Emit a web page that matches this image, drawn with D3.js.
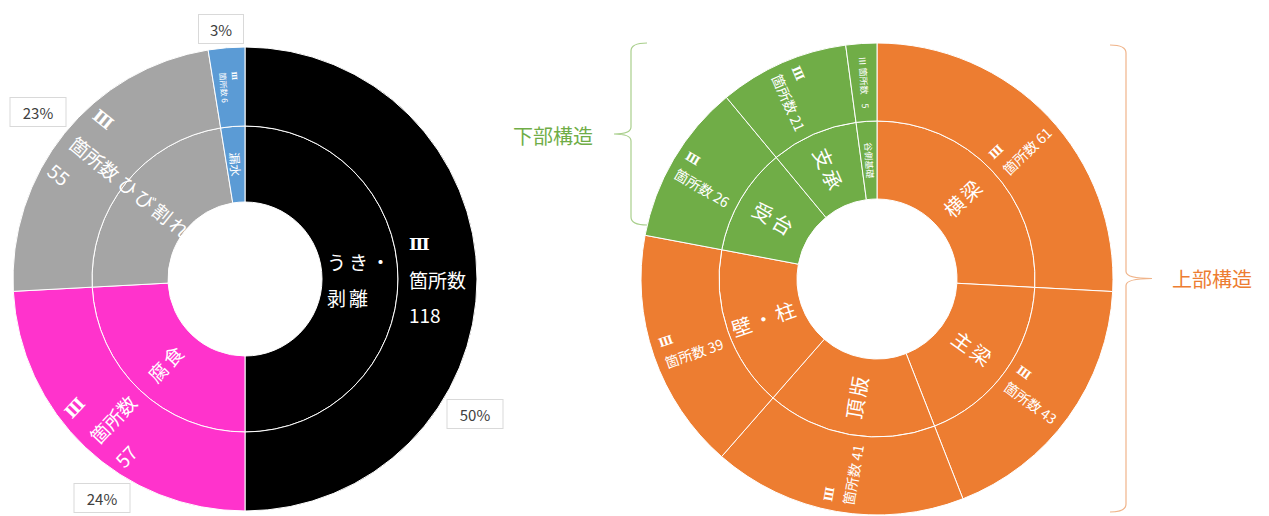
<!DOCTYPE html>
<html>
<head>
<meta charset="utf-8">
<script src="https://cdn.jsdelivr.net/npm/d3@7"></script>
<style>
  body { margin: 0; background: #fff; }
  text { font-family: "Noto Sans CJK JP", "Noto Sans", sans-serif; }
</style>
</head>
<body>
<div id="container"></div>
<script>
// left sunburst: damage type
const leftCategories = ["うき・剥離", "腐食", "ひび割れ", "漏水"];
const leftInnerLines = [["うき・", "剥離"], ["腐食"], ["ひび割れ"], ["漏水"]];
const leftValues = [118, 57, 55, 6];
const leftColors = ["#000000", "#ff33cc", "#a5a5a5", "#5b9bd5"];

// right sunburst: member
const rightCategories = ["横梁", "主梁", "頂版", "壁・柱", "受台", "支承", "谷側基礎"];
const rightValues = [61, 43, 41, 39, 26, 21, 5];
const rightGroups = ["上部構造", "上部構造", "上部構造", "上部構造", "下部構造", "下部構造", "下部構造"];
const groupColors = { "上部構造": "#ed7d31", "下部構造": "#70ad47" };
const groupBraceColors = { "上部構造": "#f0b48a", "下部構造": "#a9cf8c" };

const rankLabel = "Ⅲ";
const countLabel = "箇所数";

const width = 1269;
const height = 516;

const svg = d3.select("#container")
    .append("svg")
    .attr("width", width)
    .attr("height", height);

// label rotation like excel sunburst: along the radius, never upside down
function labelRotation(d) {
    const a = (d.startAngle + d.endAngle) / 2 * 180 / Math.PI;
    let r = a - 90;
    if (r > 90) r -= 180;
    return r;
}

// multi line label, lines left aligned, block centred at (0,0)
function addLabel(g, lines, size, lineGap, opts) {
    opts = opts || {};
    const t = g.append("text")
        .attr("fill", opts.fill || "#fff")
        .attr("font-size", size)
        .style("letter-spacing", opts.spacing || "0px");
    lines.forEach((line, i) => {
        const ts = t.append("tspan")
            .attr("x", 0)
            .attr("y", (i - (lines.length - 1) / 2) * lineGap)
            .attr("dominant-baseline", "central")
            .text(line);
        if (line === rankLabel) {
            ts.attr("font-family", "DejaVu Serif, serif")
              .attr("font-weight", "bold")
              .attr("font-size", opts.rankSize || size);
        }
    });
    let w = 0;
    t.selectAll("tspan").each(function() { w = Math.max(w, this.getComputedTextLength()); });
    t.attr("transform", `translate(${-w / 2},0)`);
}

function drawSunburst(cfg) {
    const pie = d3.pie().sort(null).value(d => d.value)
        .startAngle(0).endAngle(2 * Math.PI);
    const arcs = pie(cfg.data);
    const inner = d3.arc().innerRadius(cfg.r0).outerRadius(cfg.r1);
    const outer = d3.arc().innerRadius(cfg.r1).outerRadius(cfg.r2);

    const g = svg.append("g").attr("transform", `translate(${cfg.cx},${cfg.cy})`);

    [inner, outer].forEach(arc => {
        g.selectAll(null)
            .data(arcs)
            .enter()
            .append("path")
            .attr("d", arc)
            .attr("fill", d => d.data.color)
            .attr("stroke", "#fff")
            .attr("stroke-width", 1);
    });

    arcs.forEach(d => {
        const rot = labelRotation(d);
        const c1 = inner.centroid(d);
        const gi = g.append("g").attr("transform", `translate(${c1[0]},${c1[1]}) rotate(${rot})`);
        const small = d.data.value < 10;
        addLabel(gi, d.data.innerLines, small ? cfg.smallInner : cfg.innerSize, small ? 10 : cfg.innerGap,
            { spacing: small ? "0px" : "3px" });

        const c2 = outer.centroid(d);
        const go = g.append("g").attr("transform", `translate(${c2[0]},${c2[1]}) rotate(${rot})`);
        addLabel(go, cfg.outerLines(d.data), small ? cfg.smallOuter : cfg.outerSize, small ? 11 : cfg.outerGap,
            { rankSize: small ? cfg.smallOuter - 1 : cfg.rankSize });
    });
    return g;
}

// ---------- left ----------
const leftData = leftCategories.map((c, i) => ({
    name: c, value: leftValues[i], color: leftColors[i], innerLines: leftInnerLines[i]
}));
const leftTotal = d3.sum(leftValues);

const leftG = drawSunburst({
    data: leftData, cx: 245, cy: 279, r0: 77, r1: 153, r2: 232,
    innerSize: 19, innerGap: 36, outerSize: 19, outerGap: 35, rankSize: 17,
    smallInner: 12, smallOuter: 8,
    outerLines: d => d.value < 10
        ? [rankLabel, `${countLabel} ${d.value}`]
        : [rankLabel, countLabel, String(d.value)]
});

// percent callouts (offsets from the centre)
const boxOffsets = [[230, 135], [-143, 219], [-207, -167], [-24, -250]];
leftData.forEach((d, i) => {
    const txt = Math.round(d.value / leftTotal * 100) + "%";
    const w = txt.length > 2 ? 56 : 45;
    const b = leftG.append("g").attr("transform", `translate(${boxOffsets[i][0]},${boxOffsets[i][1]})`);
    b.append("rect")
        .attr("x", -w / 2).attr("y", -14.5)
        .attr("width", w).attr("height", 29)
        .attr("fill", "#fff")
        .attr("stroke", "#d9d9d9");
    b.append("text")
        .attr("text-anchor", "middle")
        .attr("dominant-baseline", "central")
        .attr("font-size", 15)
        .attr("fill", "#404040")
        .text(txt);
});

// ---------- right ----------
const rightData = rightCategories.map((c, i) => ({
    name: c, value: rightValues[i], color: groupColors[rightGroups[i]], innerLines: [c]
}));

drawSunburst({
    data: rightData, cx: 877, cy: 279, r0: 80, r1: 158, r2: 236,
    innerSize: 20, innerGap: 24, outerSize: 14, outerGap: 20, rankSize: 12,
    smallInner: 9, smallOuter: 9,
    outerLines: d => d.value < 10
        ? [`${rankLabel} ${countLabel}　${d.value}`]
        : [rankLabel, `${countLabel} ${d.value}`]
});

// braces
function brace(x, y0, y1, tipX, dir, color) {
    const ym = (y0 + y1) / 2;
    const e = 16 * dir; // arm length towards the chart
    const p = d3.path();
    p.moveTo(x + e, y0);
    p.quadraticCurveTo(x, y0, x, y0 + 8);
    p.lineTo(x, ym - 7);
    p.quadraticCurveTo(x, ym, tipX, ym);
    p.quadraticCurveTo(x, ym, x, ym + 7);
    p.lineTo(x, y1 - 8);
    p.quadraticCurveTo(x, y1, x + e, y1);
    svg.append("path")
        .attr("d", p.toString())
        .attr("fill", "none")
        .attr("stroke", color)
        .attr("stroke-width", 1.2);
}

brace(631, 43, 225, 614, 1, groupBraceColors["下部構造"]);
svg.append("text")
    .attr("x", 553).attr("y", 135)
    .attr("text-anchor", "middle")
    .attr("dominant-baseline", "central")
    .attr("font-size", 20)
    .attr("fill", groupColors["下部構造"])
    .text("下部構造");

brace(1126, 45, 512, 1152, -1, groupBraceColors["上部構造"]);
svg.append("text")
    .attr("x", 1212).attr("y", 278)
    .attr("text-anchor", "middle")
    .attr("dominant-baseline", "central")
    .attr("font-size", 20)
    .attr("fill", groupColors["上部構造"])
    .text("上部構造");
</script>
</body>
</html>
